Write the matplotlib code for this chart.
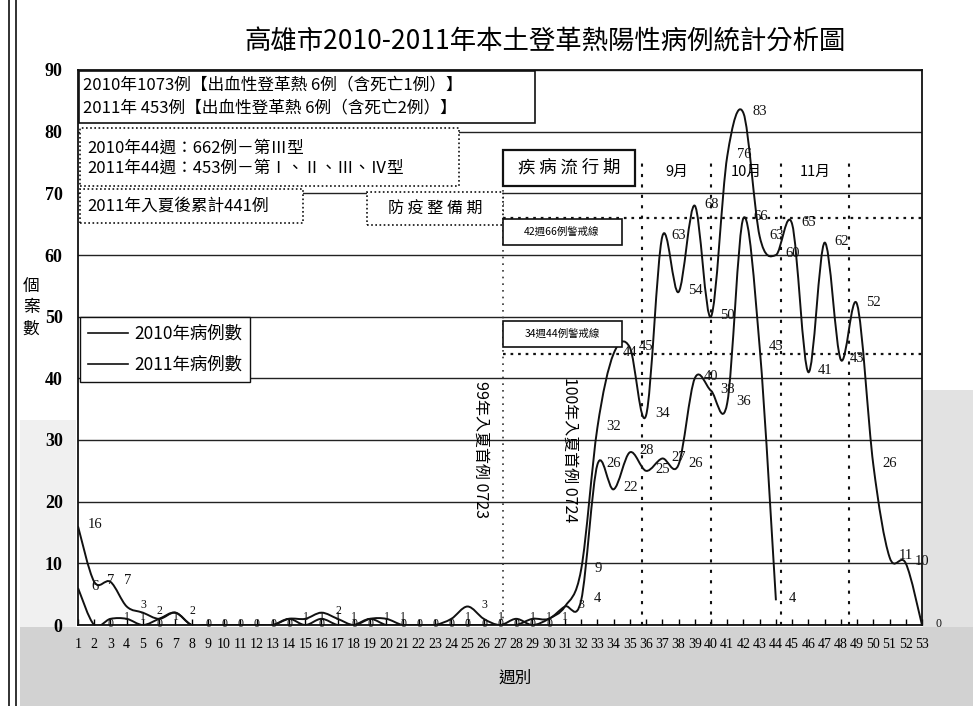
import numpy as np
import matplotlib
matplotlib.use("Agg")
import matplotlib.pyplot as plt
from matplotlib.path import Path
from matplotlib.patches import PathPatch, Rectangle
from matplotlib.lines import Line2D

plt.rcParams['font.family'] = ['Noto Sans CJK TC', 'DejaVu Sans']

# ---------------- data ----------------
weeks_2010 = list(range(1, 54))
cases_2010 = [16, 7, 7, 3, 2, 1, 2, 0, 0, 0, 0, 0, 0, 1, 1, 2, 1, 0, 1, 1,
              0, 0, 0, 1, 3, 1, 0, 1, 0, 1, 3, 9, 32, 44, 45, 34, 63, 54, 68, 50,
              76, 83, 63, 60, 65, 41, 62, 43, 52, 26, 11, 10, 0]
weeks_2011 = list(range(1, 45))
cases_2011 = [6, 0, 1, 1, 0, 1, 2, 0, 0, 0, 0, 0, 0, 1, 0, 1, 0, 0, 1, 0,
              0, 0, 0, 0, 0, 0, 0, 0, 1, 1, 3, 4, 26, 22, 28, 25, 27, 26, 40, 38,
              36, 66, 45, 4]
series_names = ['2010年病例數', '2011年病例數']
y_ticks = list(range(0, 91, 10))
x_ticks = list(range(1, 54))
alert_levels = [66, 44]
alert_texts = ['42週66例警戒線', '34週44例警戒線']
phase_start_week = 27.2
month_bounds = [35.75, 40.0, 44.3, 48.5]
month_names = ['9月', '10月', '11月']

title = '高雄市2010-2011年本土登革熱陽性病例統計分析圖'
box1_lines = ['2010年1073例【出血性登革熱 6例（含死亡1例）】',
              '2011年 453例【出血性登革熱 6例（含死亡2例）】']
box2_lines = ['2010年44週：662例－第Ⅲ型',
              '2011年44週：453例－第Ⅰ、Ⅱ、Ⅲ、Ⅳ型']
box3_text = '2011年入夏後累計441例'
prep_text = '防 疫 整 備 期'
epi_text = '疾 病 流 行 期'
first_case_texts = ['99年入夏首例 0723', '100年入夏首例 0724']
first_case_weeks = [25.8, 31.3]

# ---------------- figure ----------------
W, H = 973, 706
fig = plt.figure(figsize=(W / 100, H / 100), dpi=100, facecolor='white')


def fx(px):
    return px / W


def fy(py):
    return 1 - py / H


# scanned background bands (behind everything)
for (x0, y0, x1, y1, col) in ((20, 627, 973, 706, '#d2d2d2'),
                              (923, 390, 973, 627, '#e2e2e2'),
                              (20, 420, 76, 627, '#f0f0f0')):
    fig.patches.append(Rectangle((fx(x0), fy(y1)), fx(x1) - fx(x0), (y1 - y0) / H,
                                 transform=fig.transFigure, facecolor=col,
                                 edgecolor='none', zorder=-5))
for lx in (9, 16):
    fig.add_artist(Line2D([fx(lx), fx(lx)], [0, 1], transform=fig.transFigure,
                          color='#222222', lw=1.3, zorder=-4))

ax = fig.add_axes([fx(78), fy(625), fx(922) - fx(78), fy(70) - fy(625)])
ax.set_zorder(1)
ax.set_xlim(1, 53)
ax.set_ylim(0, 90)
ax.set_facecolor('white')
for s in ax.spines.values():
    s.set_color('#111111')
    s.set_linewidth(1.3)

ax.set_yticks(y_ticks)
ax.set_yticklabels([str(v) for v in y_ticks], fontfamily='Liberation Serif',
                   fontsize=13, fontweight='bold')
ax.tick_params(axis='y', length=0, pad=11)
ax.set_xticks(x_ticks)
ax.set_xticklabels([str(v) for v in x_ticks], fontfamily='Liberation Serif', fontsize=10)
ax.tick_params(axis='x', direction='in', length=4, pad=9, width=1)
ax.grid(axis='y', color='#222222', lw=1.0)
ax.set_axisbelow(True)


def smooth_path(xs, ys):
    pts = np.column_stack([xs, ys]).astype(float)
    n = len(pts)
    verts = [pts[0]]
    codes = [Path.MOVETO]
    for i in range(n - 1):
        p0 = pts[i - 1] if i > 0 else pts[i]
        p1 = pts[i]
        p2 = pts[i + 1]
        p3 = pts[i + 2] if i + 2 < n else pts[i + 1]
        verts += [p1 + (p2 - p0) / 6, p2 - (p3 - p1) / 6, p2]
        codes += [Path.CURVE4] * 3
    return Path(verts, codes)


labelled = {}
for wk, cs in ((weeks_2010, cases_2010), (weeks_2011, cases_2011)):
    ax.add_patch(PathPatch(smooth_path(wk, cs), fill=False, edgecolor='#111111', lw=1.4, zorder=3))
    for w, c in zip(wk, cs):
        if labelled.get(w) == c:
            continue  # identical label at identical spot already drawn
        labelled[w] = c
        ax.annotate(str(c), (w, c), xytext=(12, 1), textcoords='offset points',
                    ha='center', va='center', fontsize=10.5 if c > 3 else 8.5,
                    fontfamily='Liberation Serif', color='#111111', zorder=4)

# alert lines and phase lines
for lv in alert_levels:
    ax.plot([phase_start_week, 53], [lv, lv], color='#111111', ls=(0, (1.2, 2.2)), lw=1.6, zorder=2)
ax.plot([phase_start_week, phase_start_week], [0, 70.7], color='#333333', ls=(0, (1, 3)), lw=1.2, zorder=2)
for mb in month_bounds:
    ax.plot([mb, mb], [0, 75.3], color='#111111', ls=(0, (1.5, 3.5)), lw=1.5, zorder=2)
for i, name in enumerate(month_names):
    ax.text((month_bounds[i] + month_bounds[i + 1]) / 2, 73.5, name, ha='center', va='center',
            fontsize=10.5, zorder=5)

# first-case vertical texts
for t, w in zip(first_case_texts, first_case_weeks):
    ax.text(w, 28.5, t, rotation=-90, ha='center', va='center', fontsize=11.5, zorder=5)


# ---------------- boxes ----------------
def fig_box(x0, y0, x1, y1, ls='-', lw=1.2):
    r = Rectangle((fx(x0), fy(y1)), fx(x1) - fx(x0), (y1 - y0) / H, transform=fig.transFigure,
                  facecolor='white', edgecolor='#111111', ls=ls, lw=lw, zorder=5)
    fig.add_artist(r)


dotted = (0, (1, 1.5))
fig_box(79, 71, 535, 123)
fig.text(fx(83), fy(85), box1_lines[0], fontsize=12, va='center', ha='left', zorder=6)
fig.text(fx(83), fy(108), box1_lines[1], fontsize=12, va='center', ha='left', zorder=6)

fig_box(80, 128, 459, 186, ls=dotted)
fig.text(fx(87), fy(148), box2_lines[0], fontsize=12, va='center', ha='left', zorder=6)
fig.text(fx(87), fy(168), box2_lines[1], fontsize=12, va='center', ha='left', zorder=6)

fig_box(80, 189, 303, 223, ls=dotted)
fig.text(fx(87), fy(206), box3_text, fontsize=12, va='center', ha='left', zorder=6)

fig_box(367, 192, 503, 225, ls=dotted)
fig.text(fx(435), fy(209), prep_text, fontsize=11.5, va='center', ha='center', zorder=6)

fig_box(503, 150, 635, 186, lw=1.6)
fig.text(fx(569), fy(168), epi_text, fontsize=12.5, va='center', ha='center', zorder=6)

fig_box(503, 219, 622, 245)
fig.text(fx(562), fy(232), alert_texts[0], fontsize=7.5, va='center', ha='center', zorder=6)
fig_box(503, 321, 622, 347)
fig.text(fx(562), fy(334), alert_texts[1], fontsize=7.5, va='center', ha='center', zorder=6)

# legend
handles = [Line2D([], [], color='#111111', lw=1.2), Line2D([], [], color='#111111', lw=1.2)]
leg = ax.legend(handles, series_names, loc='upper left', bbox_to_anchor=(fx(80), fy(317)),
                bbox_transform=fig.transFigure, borderaxespad=0, fontsize=12.5,
                handlelength=2.3, handletextpad=0.4, labelspacing=0.75, borderpad=0.45,
                frameon=True, fancybox=False, edgecolor='#111111', framealpha=1)
leg.get_frame().set_linewidth(1.0)
leg.set_zorder(6)

# titles / labels
fig.text(fx(545), fy(42), title, fontsize=19, ha='center', va='center')
fig.text(fx(31), fy(308), '個\n案\n數', fontsize=12, ha='center', va='center', linespacing=1.35)
fig.text(fx(515), fy(678), '週別', fontsize=12, ha='center', va='center')

fig.savefig('out.png', dpi=100, facecolor=fig.get_facecolor())
